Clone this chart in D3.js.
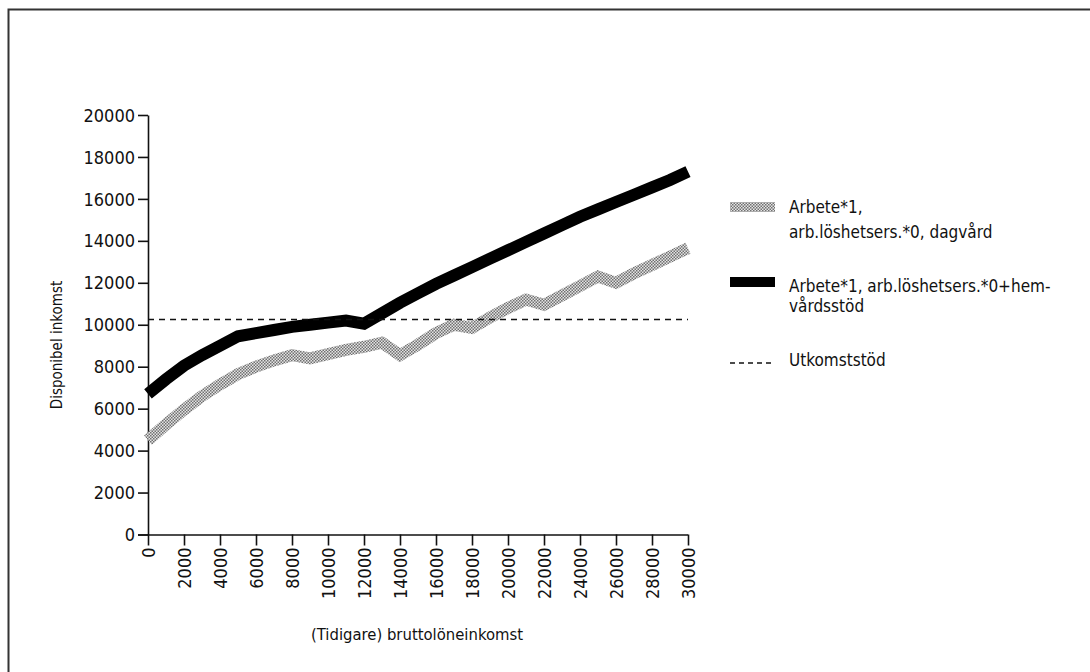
<!DOCTYPE html>
<html><head><meta charset="utf-8">
<script src="https://cdn.jsdelivr.net/npm/d3@7/dist/d3.min.js"></script>
<style>
html,body{margin:0;padding:0;background:#fff;}
svg text{font-family:"Liberation Sans Narrow","DejaVu Sans Condensed","DejaVu Sans",sans-serif;font-stretch:condensed;fill:#111;}
</style></head>
<body>
<svg id="chart" width="1090" height="672"></svg>
<script>
const incomes = [0,1000,2000,3000,4000,5000,6000,7000,8000,9000,10000,11000,12000,13000,14000,15000,16000,17000,18000,19000,20000,21000,22000,23000,24000,25000,26000,27000,28000,29000,30000];
const dagvard = [4500,5250,5950,6600,7150,7650,8000,8300,8550,8400,8600,8800,8950,9150,8550,9050,9600,10000,9850,10350,10800,11200,10950,11400,11850,12300,12000,12450,12850,13250,13650];
const hemvard = [6700,7400,8050,8550,9000,9450,9600,9750,9900,10000,10100,10200,10050,10550,11050,11500,11950,12350,12750,13150,13550,13950,14350,14750,15150,15500,15850,16200,16550,16900,17300];
const utkomststod = 10250;
const yTicks = [0,2000,4000,6000,8000,10000,12000,14000,16000,18000,20000];
const xTicks = [0,2000,4000,6000,8000,10000,12000,14000,16000,18000,20000,22000,24000,26000,28000,30000];
const legendLabels = [["Arbete*1,","arb.löshetsers.*0, dagvård"],["Arbete*1, arb.löshetsers.*0+hem-","vårdsstöd"],["Utkomststöd"]];
const yTitle = "Disponibel inkomst";
const xTitle = "(Tidigare) bruttolöneinkomst";

const svg = d3.select("#chart");
const x = d3.scaleLinear().domain([0,30000]).range([148,688]);
const y = d3.scaleLinear().domain([0,20000]).range([534.5,115]);

// frame
svg.append("path").attr("d","M8.5,672 L8.5,9.5 L1090,9.5").attr("fill","none").attr("stroke","#333").attr("stroke-width",2);

// pattern
const defs = svg.append("defs");
const pat = defs.append("pattern").attr("id","dots").attr("patternUnits","userSpaceOnUse").attr("width",3).attr("height",3);
pat.append("rect").attr("width",3).attr("height",3).attr("fill","#e4e4e4");
pat.append("rect").attr("x",0).attr("y",0).attr("width",1.5).attr("height",1.5).attr("fill","#707070");
pat.append("rect").attr("x",1.5).attr("y",1.5).attr("width",1.5).attr("height",1.5).attr("fill","#707070");

// axes
const yAxis = d3.axisLeft(y).tickValues(yTicks).tickSize(10).tickSizeOuter(0).tickFormat(d3.format("d"));
const gy = svg.append("g").attr("transform","translate(148,0)").call(yAxis);
gy.selectAll("text").attr("font-size","18px").attr("x",-13).attr("dy","0.34em");
const xAxis = d3.axisBottom(x).tickValues(xTicks).tickSize(11).tickSizeOuter(0).tickFormat(d3.format("d"));
const gx = svg.append("g").attr("transform","translate(0,534.5)").call(xAxis);
gx.selectAll("text").attr("font-size","18px").attr("transform","rotate(-90)").attr("text-anchor","end").attr("x",-13).attr("y",0).attr("dy","0.35em");
[gx,gy].forEach(g=>{g.selectAll("path,line").attr("stroke","#111").attr("stroke-width",1.6);});
gx.select(".domain").attr("d","M138,0.5 L688,0.5");

// lines
const line = d3.line().x((d,i)=>x(incomes[i])).y(d=>y(d));
svg.append("path").datum(dagvard).attr("d",line).attr("fill","none").attr("stroke","url(#dots)").attr("stroke-width",12).attr("stroke-linejoin","miter");
svg.append("path").datum(hemvard).attr("d",line).attr("fill","none").attr("stroke","#000").attr("stroke-width",12).attr("stroke-linejoin","miter");
svg.append("line").attr("x1",x(0)).attr("x2",x(30000)).attr("y1",y(utkomststod)).attr("y2",y(utkomststod)).attr("stroke","#111").attr("stroke-width",1.6).attr("stroke-dasharray","6,5");

// titles
svg.append("text").attr("transform","translate(62,345) rotate(-90)").attr("text-anchor","middle").attr("font-size","15px").text(yTitle);
svg.append("text").attr("x",417).attr("y",640).attr("text-anchor","middle").attr("font-size","16.5px").text(xTitle);

// legend
const lg = svg.append("g");
lg.append("rect").attr("x",730).attr("y",202).attr("width",45).attr("height",10).attr("fill","url(#dots)");
lg.append("rect").attr("x",730).attr("y",277).attr("width",45).attr("height",10).attr("fill","#000");
lg.append("line").attr("x1",730).attr("x2",775).attr("y1",363).attr("y2",363).attr("stroke","#111").attr("stroke-width",1.3).attr("stroke-dasharray","5,4");
const baselines = [[213,238],[292,312],[366]];
legendLabels.forEach((lines,i)=>{
  lines.forEach((t,j)=>{
    lg.append("text").attr("x",789).attr("y",baselines[i][j]).attr("font-size","17px").text(t);
  });
});
</script>
</body></html>
